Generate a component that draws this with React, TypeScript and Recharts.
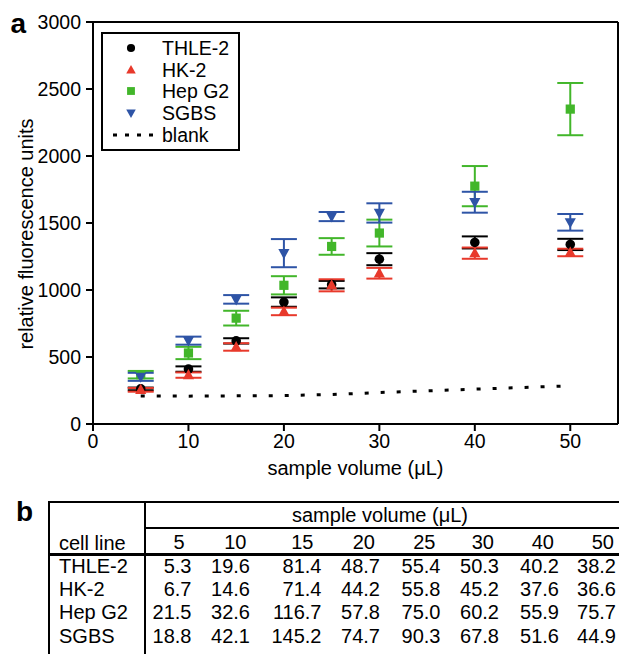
import { ScatterChart, Scatter, XAxis, YAxis, ErrorBar, ReferenceLine, Legend } from 'recharts'

// sample volumes (µL) shared by every series and the table
const volumes = [5, 10, 15, 20, 25, 30, 40, 50]

// mean fluorescence
const thleMean = [262, 410, 620, 910, 1040, 1230, 1355, 1340]
const thleErr = [10, 20, 20, 35, 28, 45, 45, 42]
const hk2Mean = [255, 365, 575, 840, 1035, 1125, 1275, 1280]
const hk2Err = [14, 20, 28, 28, 45, 40, 42, 28]
const hepMean = [368, 530, 790, 1035, 1325, 1425, 1775, 2350]
const hepErr = [28, 46, 55, 68, 62, 100, 150, 195]
const sgbsMean = [352, 622, 930, 1275, 1548, 1575, 1655, 1505]
const sgbsErr = [30, 30, 32, 105, 34, 72, 78, 62]
const blankMean = [209, 208, 210, 212, 220, 235, 260, 285]

const xTicks = [0, 10, 20, 30, 40, 50]
const yTicks = [0, 500, 1000, 1500, 2000, 2500, 3000]

// table b
const tableHeader = ['5', '10', '15', '20', '25', '30', '40', '50']
const thleTable = ['5.3', '19.6', '81.4', '48.7', '55.4', '50.3', '40.2', '38.2']
const hk2Table = ['6.7', '14.6', '71.4', '44.2', '55.8', '45.2', '37.6', '36.6']
const hepTable = ['21.5', '32.6', '116.7', '57.8', '75.0', '60.2', '55.9', '75.7']
const sgbsTable = ['18.8', '42.1', '145.2', '74.7', '90.3', '67.8', '51.6', '44.9']

const FONT = '"Liberation Sans", Arial, Helvetica, sans-serif'
const BLACK = '#000000'
const RED = '#e8392b'
const GREEN = '#42b62a'
const BLUE = '#2e54a6'

const toPoints = (means: number[], errs?: number[]) =>
  means.map((y, i) => ({ x: volumes[i], y, err: errs ? errs[i] : 0 }))

type Kind = 'circle' | 'up' | 'square' | 'down'

function glyph(kind: Kind, color: string, cx: number, cy: number, s = 1) {
  if (kind === 'circle') return <circle cx={cx} cy={cy} r={4.8 * s} fill={color} />
  if (kind === 'square')
    return <rect x={cx - 4.6 * s} y={cy - 4.6 * s} width={9.2 * s} height={9.2 * s} fill={color} />
  if (kind === 'up')
    return (
      <polygon
        points={`${cx},${cy - 6 * s} ${cx + 5.6 * s},${cy + 4.2 * s} ${cx - 5.6 * s},${cy + 4.2 * s}`}
        fill={color}
      />
    )
  return (
    <polygon
      points={`${cx - 5.6 * s},${cy - 4.2 * s} ${cx + 5.6 * s},${cy - 4.2 * s} ${cx},${cy + 6 * s}`}
      fill={color}
    />
  )
}

const series: { name: string; kind: Kind; color: string; data: { x: number; y: number; err: number }[] }[] = [
  { name: 'THLE-2', kind: 'circle', color: BLACK, data: toPoints(thleMean, thleErr) },
  { name: 'HK-2', kind: 'up', color: RED, data: toPoints(hk2Mean, hk2Err) },
  { name: 'Hep G2', kind: 'square', color: GREEN, data: toPoints(hepMean, hepErr) },
  { name: 'SGBS', kind: 'down', color: BLUE, data: toPoints(sgbsMean, sgbsErr) },
]
const blankData = toPoints(blankMean)

function LegendBox() {
  return (
    <div
      style={{
        position: 'relative',
        width: 139,
        height: 119,
        border: '2px solid #000',
        boxSizing: 'border-box',
        background: '#fff',
        fontFamily: FONT,
        fontSize: 19.5,
        color: '#000',
      }}
    >
      {series.map((s, i) => (
        <div key={s.name} style={{ position: 'absolute', left: 0, top: 3 + i * 21.5, height: 22, width: 135 }}>
          <svg width={40} height={22} style={{ position: 'absolute', left: 8, top: 0 }}>
            {glyph(s.kind, s.color, 20, 11, 0.85)}
          </svg>
          <span style={{ position: 'absolute', left: 59, top: 0, lineHeight: '22px' }}>{s.name}</span>
        </div>
      ))}
      <div style={{ position: 'absolute', left: 0, top: 3 + 4 * 21.5 + 1, height: 22, width: 135 }}>
        <svg width={50} height={22} style={{ position: 'absolute', left: 8, top: 0 }}>
          <line x1={2} y1={11} x2={42} y2={11} stroke="#000" strokeWidth={3} strokeDasharray="4 8" />
        </svg>
        <span style={{ position: 'absolute', left: 59, top: 0, lineHeight: '22px' }}>blank</span>
      </div>
    </div>
  )
}

const tickStyle = { fontFamily: FONT, fontSize: 19.5, fill: '#000' }

function Chart() {
  return (
    <ScatterChart width={619} height={490} margin={{ top: 22, right: 1, bottom: 0, left: 0 }}>
      <XAxis
        type="number"
        dataKey="x"
        domain={[0, 55]}
        ticks={xTicks}
        allowDataOverflow
        height={66}
        axisLine={{ stroke: '#000', strokeWidth: 2 }}
        tickLine={{ stroke: '#000', strokeWidth: 2 }}
        tickSize={7}
        tickMargin={3}
        tick={tickStyle}
        label={(p: any) => {
          const vb = p.viewBox
          return (
            <text
              x={vb.x + vb.width / 2}
              y={vb.y + 44}
              textAnchor="middle"
              dominantBaseline="central"
              style={{ fontFamily: FONT, fontSize: 20, fill: '#000' }}
            >
              sample volume (μL)
            </text>
          )
        }}
      />
      <YAxis
        type="number"
        dataKey="y"
        domain={[0, 3000]}
        ticks={yTicks}
        allowDataOverflow
        width={93}
        axisLine={{ stroke: '#000', strokeWidth: 2 }}
        tickLine={{ stroke: '#000', strokeWidth: 2 }}
        tickSize={7}
        tickMargin={5}
        tick={tickStyle}
        label={(p: any) => {
          const vb = p.viewBox
          const cx = 26
          const cy = vb.y + vb.height / 2 + 11
          return (
            <text
              x={cx}
              y={cy}
              transform={`rotate(-90 ${cx} ${cy})`}
              textAnchor="middle"
              dominantBaseline="central"
              style={{ fontFamily: FONT, fontSize: 20, fill: '#000' }}
            >
              relative fluorescence units
            </text>
          )
        }}
      />
      <ReferenceLine y={3000} stroke="#000" strokeWidth={2} />
      <ReferenceLine x={55} stroke="#000" strokeWidth={2} />
      <Scatter
        name="blank"
        data={blankData}
        line={{ stroke: '#000', strokeWidth: 3, strokeDasharray: '4 12' }}
        shape={() => <g />}
        legendType="none"
        isAnimationActive={false}
      />
      {series.map((s) => (
        <Scatter
          key={s.name}
          name={s.name}
          data={s.data}
          isAnimationActive={false}
          shape={(p: any) => glyph(s.kind, s.color, p.cx, p.cy)}
        >
          <ErrorBar dataKey="err" direction="y" width={13} strokeWidth={2} stroke={s.color} isAnimationActive={false} />
        </Scatter>
      ))}
      <Legend
        layout="vertical"
        align="center"
        verticalAlign="middle"
        wrapperStyle={{ left: 101, top: 32, width: 139, height: 119 }}
        content={() => <LegendBox />}
      />
    </ScatterChart>
  )
}

const headerRight = [184.5, 246.5, 313.5, 375, 435.5, 494, 554, 614]
const cellRight = [191.5, 250, 321.5, 380, 440.5, 499, 559, 616]

function Table() {
  const rows = [
    { name: 'THLE-2', values: thleTable },
    { name: 'HK-2', values: hk2Table },
    { name: 'Hep G2', values: hepTable },
    { name: 'SGBS', values: sgbsTable },
  ]
  const rowY = [565.7, 589, 612.3, 635.6]
  const txt = (key: string, text: string, y: number, opts: { left?: number; right?: number; center?: number }) => {
    const style: any = {
      position: 'absolute',
      top: y - 12,
      lineHeight: '24px',
      fontSize: 20,
      whiteSpace: 'nowrap',
    }
    if (opts.left !== undefined) style.left = opts.left
    if (opts.right !== undefined) style.right = 619 - opts.right
    if (opts.center !== undefined) {
      style.left = opts.center - 150
      style.width = 300
      style.textAlign = 'center'
    }
    return (
      <div key={key} style={style}>
        {text}
      </div>
    )
  }
  const line = (key: string, l: number, t: number, w: number, h: number) => (
    <div key={key} style={{ position: 'absolute', left: l, top: t, width: w, height: h, background: '#000' }} />
  )
  return (
    <div style={{ position: 'absolute', left: 0, top: 0, width: 619, height: 654, overflow: 'hidden' }}>
      {line('l', 48, 501, 2, 160)}
      {line('t', 48, 501, 580, 2)}
      {line('v', 143.5, 501, 2, 160)}
      {line('h1', 144, 527, 480, 2)}
      {line('h2', 48, 553, 580, 3)}
      {txt('sv', 'sample volume (μL)', 515, { center: 380 })}
      {txt('cl', 'cell line', 543, { left: 59 })}
      {tableHeader.map((h, i) => txt('h' + i, h, 542, { right: headerRight[i] }))}
      {rows.map((r, ri) => [
        txt('n' + ri, r.name, rowY[ri], { left: 59 }),
        ...r.values.map((v, ci) => txt('c' + ri + '-' + ci, v, rowY[ri], { right: cellRight[ci] })),
      ])}
    </div>
  )
}

export default function App() {
  return (
    <div
      style={{
        position: 'absolute',
        left: 0,
        top: 0,
        width: 619,
        height: 654,
        background: '#fff',
        fontFamily: FONT,
        color: '#000',
        overflow: 'hidden',
      }}
    >
      <div style={{ position: 'absolute', left: 0, top: 0 }}>
        <Chart />
      </div>
      <div style={{ position: 'absolute', left: 10.5, top: 6.6, fontSize: 28, fontWeight: 'bold', lineHeight: '34px' }}>a</div>
      <div style={{ position: 'absolute', left: 16, top: 495.3, fontSize: 28, fontWeight: 'bold', lineHeight: '34px' }}>b</div>
      <Table />
    </div>
  )
}
